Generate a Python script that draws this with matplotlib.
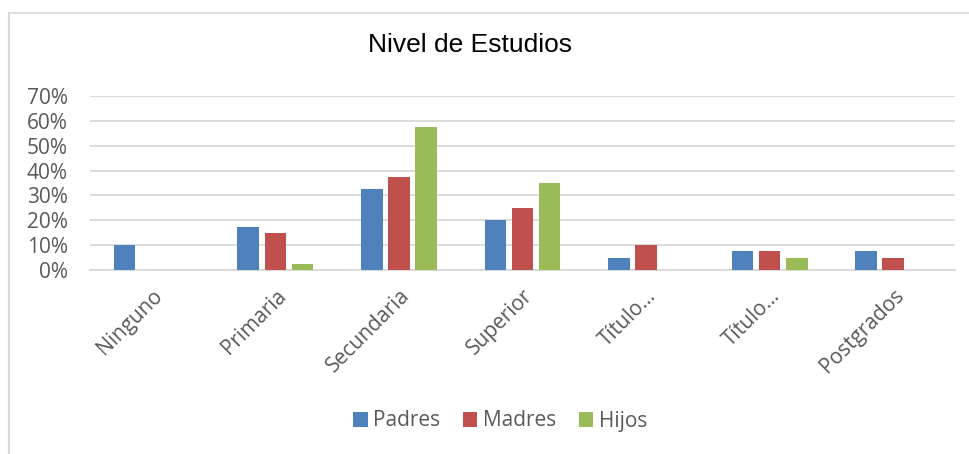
import matplotlib
matplotlib.use("Agg")
import matplotlib.pyplot as plt
import numpy as np
from matplotlib.lines import Line2D

categories = ["Ninguno", "Primaria", "Secundaria", "Superior", "Título…", "Título…", "Postgrados"]
padres = [0.10, 0.175, 0.325, 0.20, 0.05, 0.075, 0.075]
madres = [0.0, 0.15, 0.375, 0.25, 0.10, 0.075, 0.05]
hijos = [0.0, 0.025, 0.575, 0.35, 0.0, 0.05, 0.0]
series_names = ["Padres", "Madres", "Hijos"]
colors = ["#4F81BD", "#C0504D", "#9BBB59"]
yticks = [0, 0.1, 0.2, 0.3, 0.4, 0.5, 0.6, 0.7]

W, H = 969, 454
fig = plt.figure(figsize=(W / 100, H / 100), dpi=100)
ax = fig.add_axes([90 / W, 1 - 270 / H, (955 - 90) / W, (270 - 96) / H])

font = "Open Sans"
fs = 15
x = np.arange(len(categories))
bw = 0.175
step = 0.22
for i, (vals, name, c) in enumerate(zip([padres, madres, hijos], series_names, colors)):
    ax.bar(x + (i - 1) * step, vals, width=bw, color=c, label=name, zorder=3)

ax.set_xlim(-0.5, len(categories) - 0.5)
ax.set_ylim(0, 0.7)
ax.set_yticks(yticks)
ax.set_yticklabels([f"{int(round(v * 100))}%" for v in yticks], fontsize=fs, color="#595959", family=font)
ax.yaxis.grid(True, color="#D9D9D9", linewidth=1.3, zorder=0)
ax.set_axisbelow(True)
for s in ["left", "right", "top"]:
    ax.spines[s].set_visible(False)
ax.spines["bottom"].set_color("#D9D9D9")
ax.spines["bottom"].set_linewidth(1.3)
ax.tick_params(axis="both", length=0)
ax.tick_params(axis="y", pad=16)
ax.set_xticks(x)
ax.set_xticklabels(categories, rotation=45, ha="right", va="top", rotation_mode="anchor",
                   fontsize=fs, color="#595959", family=font)
ax.tick_params(axis="x", pad=11)

fig.text(470 / W, 1 - 45 / H, "Nivel de Estudios", ha="center", va="center",
         fontsize=19, color="#000000", family="Liberation Sans")

leg = fig.legend(loc="center", bbox_to_anchor=(500 / W, 1 - 421 / H), ncol=3, frameon=False,
                 prop={"family": font, "size": fs}, handlelength=0.7, handleheight=0.7,
                 handletextpad=0.25, columnspacing=1.1)
for t in leg.get_texts():
    t.set_color("#595959")

# chart frame (top and left edges visible)
fig.lines.append(Line2D([8.5 / W, 1], [1 - 12.5 / H, 1 - 12.5 / H], transform=fig.transFigure,
                        color="#D9D9D9", linewidth=1.2))
fig.lines.append(Line2D([8.5 / W, 8.5 / W], [0, 1 - 12.5 / H], transform=fig.transFigure,
                        color="#D9D9D9", linewidth=1.6))

fig.savefig("out.png", dpi=100)
